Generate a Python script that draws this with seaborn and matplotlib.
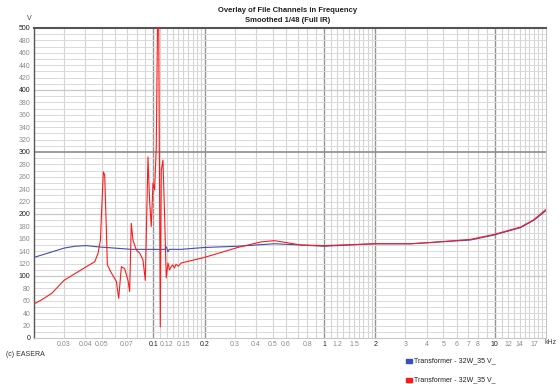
import matplotlib
matplotlib.use("Agg")
import matplotlib.pyplot as plt
from matplotlib.patches import Rectangle
import seaborn as sns
import pandas as pd
import numpy as np

# ---- data (frequency in kHz, level in V) ----
blue_f = [0.020, 0.0242, 0.030, 0.0347, 0.0405, 0.0475, 0.0594, 0.0743, 0.0973,
          0.117, 0.1191, 0.1219, 0.124, 0.1458, 0.1995, 0.3126, 0.512, 0.733,
          1.0, 2.0, 3.23, 4.2, 7.2, 9.9, 14.2, 17.0, 19.9]
blue_v = [130, 137, 145, 148, 149, 147, 145, 143, 143,
          143, 147, 139, 143, 143, 146, 148, 152, 150,
          148, 152, 152, 154, 158, 166, 178, 190, 205]

red_f = [0.020, 0.022, 0.0254, 0.030, 0.0363, 0.0405, 0.0454, 0.0475, 0.049, 0.0501,
         0.051, 0.0519, 0.0531, 0.0538, 0.0568, 0.0608, 0.0627, 0.065, 0.0679,
         0.0711, 0.0727, 0.0743, 0.076, 0.0795, 0.0832, 0.087, 0.0898, 0.0931,
         0.0951, 0.0973, 0.0996, 0.1018, 0.1041, 0.106, 0.1075, 0.1099, 0.1114,
         0.1139, 0.1164, 0.1191, 0.1219, 0.1245, 0.1274, 0.130, 0.133, 0.136,
         0.140, 0.1458, 0.1995, 0.3126, 0.428, 0.512, 0.599, 0.733, 1.0, 2.0,
         3.23, 4.2, 7.2, 9.9, 14.2, 17.0, 19.9]
red_v = [55, 61, 72, 93, 107, 115, 123, 137, 158, 222,
         268, 263, 174, 118, 105, 91, 64, 115, 112,
         93, 75, 185, 158, 142, 137, 126, 93, 292,
         222, 180, 250, 239, 308, 520, 520, 18, 271,
         287, 201, 97, 121, 110, 115, 118, 113, 119,
         116, 121, 130, 146, 155, 157, 154, 150, 149, 152,
         152, 154, 159, 167, 179, 191, 207]

x_tick_vals = [0.03, 0.04, 0.05, 0.07, 0.1, 0.12, 0.15, 0.2, 0.3, 0.4, 0.5, 0.6,
               0.8, 1, 1.2, 1.5, 2, 3, 4, 5, 6, 7, 8, 10, 12, 14, 17]
x_tick_labels = ["0.03", "0.04", "0.05", "0.07", "0.1", "0.12", "0.15", "0.2",
                 "0.3", "0.4", "0.5", "0.6", "0.8", "1", "1.2", "1.5", "2", "3",
                 "4", "5", "6", "7", "8", "10", "12", "14", "17"]
y_tick_vals = list(range(0, 501, 20))

series_label = "Transformer - 32W_35 V_"
BLUE = "#3a4fb8"
RED = "#ff1a1a"

df = pd.concat([
    pd.DataFrame({"f": blue_f, "v": blue_v, "s": "blue"}),
    pd.DataFrame({"f": red_f, "v": red_v, "s": "red"}),
], ignore_index=True)

sns.set_style("white")
plt.rcParams["font.family"] = ["Liberation Sans", "DejaVu Sans"]

fig = plt.figure(figsize=(5.6, 3.84), dpi=100)
W, H = 560, 384
L, R, T, B = 34, 546, 28, 338
ax = fig.add_axes([L / W, 1 - B / H, (R - L) / W, (B - T) / H])

# grid
ax.set_xscale("log")
grid_f = []
for dec in [0.01, 0.1, 1, 10]:
    for n in range(1, 10):
        grid_f.append(n * dec)
for dec in [0.1, 1, 10]:
    for n in range(11, 20):
        grid_f.append(n * dec / 10)
dark_f = [0.1, 0.2, 1, 2, 10]
for g in sorted(set(grid_f)):
    if 0.02 < g < 20:
        if any(abs(g - d) < 1e-9 for d in dark_f):
            ax.axvline(g, color="#949494", lw=1.0, zorder=0)
        else:
            ax.axvline(g, color="#d4d4d4", lw=0.8, zorder=0)
for yv in range(10, 500, 10):
    if yv == 300:
        ax.axhline(yv, color="#8c8c8c", lw=1.2, zorder=0)
    elif yv % 100 == 0:
        ax.axhline(yv, color="#c8c8c8", lw=0.9, zorder=0)
    else:
        ax.axhline(yv, color="#dadada", lw=0.7, zorder=0)

sns.lineplot(data=df, x="f", y="v", hue="s", palette={"blue": BLUE, "red": RED},
             estimator=None, legend=False, lw=0.8, ax=ax, zorder=3)

ax.set_xlim(0.02, 20)
ax.set_ylim(0, 500)
ax.set_xlabel("")
ax.set_ylabel("")

ax.set_xticks(x_tick_vals)
ax.set_xticklabels(x_tick_labels)
ax.xaxis.set_minor_locator(matplotlib.ticker.NullLocator())
ax.set_yticks(y_tick_vals)
ax.set_yticklabels([str(v) for v in y_tick_vals])
ax.tick_params(axis="both", length=0, labelsize=5, colors="#8a8a8a")
ax.tick_params(axis="x", pad=2.5)
ax.tick_params(axis="y", pad=2.5)
for lab, v in zip(ax.get_xticklabels(), x_tick_vals):
    if v in (0.1, 0.2, 1, 2, 10):
        lab.set_color("#202020")
for lab, v in zip(ax.get_yticklabels(), y_tick_vals):
    if v % 100 == 0:
        lab.set_color("#202020")

for side in ["left", "top"]:
    ax.spines[side].set_color("#555555")
ax.spines["left"].set_linewidth(1.0)
ax.spines["top"].set_linewidth(1.5)
for side in ["right", "bottom"]:
    ax.spines[side].set_color("#c8c8c8")
    ax.spines[side].set_linewidth(0.8)

# texts
fig.text(288 / W, 1 - 10 / H, "Overlay of File Channels in Frequency",
         ha="center", va="center", fontsize=5.5, fontweight="bold", color="#202020")
fig.text(288 / W, 1 - 21 / H, "Smoothed 1/48 (Full IR)",
         ha="center", va="center", fontsize=5.5, fontweight="bold", color="#202020")
fig.text(29 / W, 1 - 19 / H, "V", ha="center", va="center", fontsize=5, color="#404040")
fig.text(551 / W, 1 - 343 / H, "kHz", ha="center", va="center", fontsize=5, color="#404040")
fig.text(6 / W, 1 - 354 / H, "(c) EASERA", ha="left", va="center", fontsize=5, color="#303030")

for yy, col in [(361, BLUE), (380, RED)]:
    fig.patches.append(Rectangle((406 / W, 1 - (yy + 2) / H), 6 / W, 4 / H,
                                 transform=fig.transFigure, color=col))
    fig.text(414 / W, 1 - yy / H, series_label, ha="left", va="center",
             fontsize=5, color="#202020")

fig.savefig("out.png", dpi=100)
